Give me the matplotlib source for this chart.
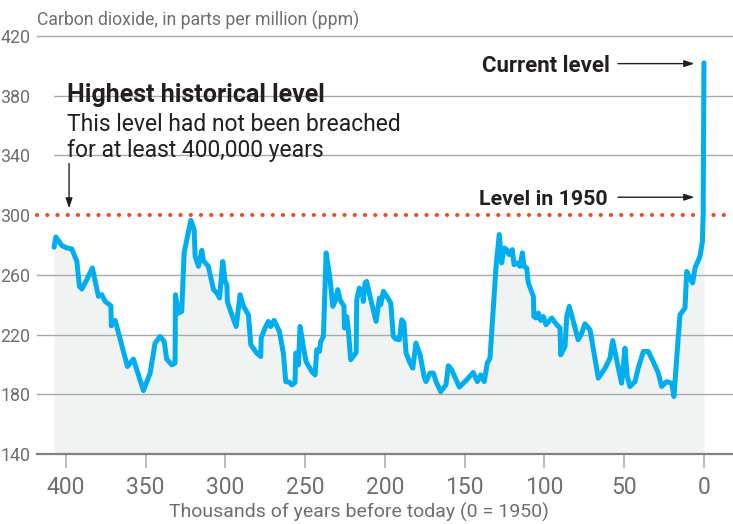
import matplotlib

matplotlib.use("Agg")
import matplotlib.pyplot as plt
from matplotlib.patches import Rectangle

# thousands of years before 1950, CO2 in ppm
YEARS_K = [
    407.3, 406.2, 402.4, 399.3, 396.2, 393.0, 391.4, 389.9, 386.8, 383.3,
    379.5, 377.4, 375.3, 371.7, 371.4, 369.0, 361.3, 357.6, 351.3, 347.1,
    344.0, 340.9, 338.3, 336.7, 333.5, 331.5, 331.2, 329.4, 327.3, 325.8,
    324.1, 321.6, 319.5, 318.9, 316.8, 314.7, 313.7, 310.6, 308.5, 307.4,
    305.3, 303.6, 301.6, 300.1, 299.0, 298.7, 295.9, 293.2, 290.7, 288.6,
    285.5, 284.0, 280.3, 277.8, 277.5, 275.1, 273.0, 271.5, 269.4, 266.1,
    263.6, 262.1, 259.8, 258.3, 256.3, 255.8, 254.8, 254.2, 253.1, 251.1,
    249.4, 245.8, 243.7, 242.7, 241.0, 240.2, 238.5, 236.8, 234.3, 232.6,
    231.2, 229.5, 228.1, 225.6, 225.3, 223.9, 222.9, 221.4, 218.0, 217.6,
    216.0, 214.1, 213.5, 212.4, 211.4, 209.3, 205.5, 203.4, 202.6, 200.9,
    198.8, 196.3, 194.7, 193.0, 190.9, 189.4, 188.0, 186.7, 184.2, 182.5,
    180.5, 177.9, 175.4, 174.2, 171.7, 169.6, 167.9, 165.0, 161.7, 160.2,
    158.1, 153.3, 148.7, 144.6, 142.0, 139.9, 137.7, 135.8, 134.1, 130.3,
    128.3, 126.8, 125.3, 123.6, 122.2, 120.1, 119.0, 117.0, 115.3, 113.8,
    112.8, 111.1, 110.1, 106.9, 106.6, 105.3, 103.8, 102.3, 100.7, 99.0,
    95.4, 92.3, 90.2, 89.8, 87.1, 86.0, 84.4, 81.9, 78.8, 76.6,
    74.6, 71.4, 66.2, 62.0, 58.9, 57.2, 54.3, 51.6, 49.5, 48.1,
    46.4, 43.2, 41.2, 38.0, 34.9, 31.8, 28.6, 26.5, 23.4, 20.2,
    18.8, 16.7, 15.0, 11.9, 10.8, 8.8, 7.1, 5.6, 2.5, 1.0,
    0.5, 0.0,
]
CO2_PPM = [
    278.5, 285.4, 279.6, 278.0, 277.4, 269.0, 252.3, 250.5, 256.8, 264.6,
    245.6, 246.7, 242.2, 239.3, 225.9, 229.5, 198.6, 203.6, 182.5, 194.2,
    214.3, 218.7, 215.4, 203.6, 199.7, 200.9, 246.7, 234.4, 235.5, 274.7,
    283.6, 296.6, 290.3, 272.4, 265.7, 276.4, 269.5, 265.7, 255.6, 250.1,
    247.9, 244.5, 269.0, 255.6, 253.4, 242.2, 233.3, 225.4, 246.7, 238.9,
    233.3, 213.2, 207.6, 205.3, 217.7, 224.4, 228.8, 225.4, 229.5, 222.1,
    207.6, 188.5, 188.1, 186.3, 187.9, 207.6, 205.3, 199.7, 225.4, 212.0,
    202.0, 195.2, 193.0, 209.8, 208.7, 215.4, 218.7, 274.7, 256.8, 238.9,
    242.2, 250.1, 243.4, 238.9, 224.4, 232.1, 223.2, 203.1, 208.0, 243.4,
    251.2, 247.9, 242.2, 254.6, 255.6, 245.6, 228.8, 244.5, 240.0, 249.0,
    245.6, 241.2, 218.7, 217.0, 216.5, 229.9, 227.7, 207.6, 200.9, 197.5,
    214.3, 206.4, 191.9, 188.5, 194.2, 194.2, 188.5, 181.8, 186.3, 199.1,
    196.4, 184.8, 189.7, 194.6, 188.5, 193.0, 188.5, 200.9, 204.2, 265.7,
    287.0, 268.0, 278.0, 276.9, 273.6, 276.9, 266.8, 268.0, 265.7, 274.7,
    265.7, 264.6, 254.6, 245.6, 232.1, 231.1, 234.4, 229.5, 232.1, 226.6,
    231.1, 226.6, 224.4, 206.4, 212.0, 232.1, 238.9, 228.8, 216.5, 221.0,
    227.2, 223.2, 190.8, 197.5, 204.2, 216.0, 200.9, 187.4, 210.9, 191.9,
    185.2, 188.5, 197.5, 208.7, 208.7, 201.9, 194.2, 185.2, 188.5, 187.4,
    178.5, 209.8, 233.3, 237.8, 262.3, 257.9, 254.6, 264.6, 272.4, 282.0,
    300.0, 402.0,
]

HIGHEST_LEVEL = 300
CURRENT_LEVEL = 401.5
LEVEL_1950_ARROW_Y = 312

X_TICKS = [400, 350, 300, 250, 200, 150, 100, 50, 0]
Y_TICKS = [140, 180, 220, 260, 300, 340, 380, 420]

LINE_BLUE = "#00aeef"
FILL_GREY = "#f1f3f3"
DOT_RED = "#f04a23"
GRID_GREY = "#a7a9ac"
TEXT_GREY = "#6d6e71"
INK = "#231f20"

plt.rcParams["font.family"] = ["Roboto", "DejaVu Sans"]

fig = plt.figure(figsize=(7.33, 5.24), dpi=100)
ax = fig.add_axes([37 / 733, 1 - 454 / 524, 696 / 733, 418 / 524])

ax.set_xlim(418, -18.2)
ax.set_ylim(140, 420)

# grid lines (300 is drawn as the red dotted line instead)
for v in Y_TICKS:
    if v in (140, HIGHEST_LEVEL):
        continue
    ax.axhline(v, color=GRID_GREY, lw=1.0, zorder=1, clip_on=False)

ax.fill_between(YEARS_K, CO2_PPM, 140, color=FILL_GREY, lw=0, zorder=0)

# white box behind the annotation text breaks the grid lines
ax.add_patch(Rectangle((407.3, 330), 407.3 - 183.6, 58, facecolor="white",
                       edgecolor="none", zorder=2))

ax.axhline(HIGHEST_LEVEL, color=DOT_RED, lw=3.0, linestyle=(0, (0.01, 2.45)),
           dash_capstyle="round", zorder=3, clip_on=False)

ax.plot(YEARS_K, CO2_PPM, color=LINE_BLUE, lw=3.6, solid_capstyle="round",
        solid_joinstyle="round", zorder=4, clip_on=False)

for side in ["left", "right", "top"]:
    ax.spines[side].set_visible(False)
ax.spines["bottom"].set_color("#808285")
ax.spines["bottom"].set_linewidth(1.6)
ax.spines["bottom"].set_zorder(5)

ax.set_xticks(X_TICKS)
ax.set_xticklabels([str(t) for t in X_TICKS])
ax.set_yticks(Y_TICKS)
ax.set_yticklabels([str(t) for t in Y_TICKS])
ax.tick_params(axis="x", length=10, width=1.1, color=GRID_GREY, pad=6,
               labelsize=16.5, labelcolor=TEXT_GREY)
ax.tick_params(axis="y", length=0, pad=5, labelsize=12.8, labelcolor=TEXT_GREY)

fig.text(37 / 733, 1 - 26 / 524, "Carbon dioxide, in parts per million (ppm)",
         ha="left", va="baseline", fontsize=12.7, color=TEXT_GREY)
fig.text(358.5 / 733, 1 - 512 / 524, "Thousands of years before today (0 = 1950)",
         ha="center", va="center", fontsize=14, color=TEXT_GREY)

# annotations
ax.text(399.1, 380.3, "Highest historical level", ha="left", va="center",
        fontsize=18, fontweight="bold", color=INK, zorder=6)
ax.text(399.1, 352.0, "This level had not been breached\nfor at least 400,000 years",
        ha="left", va="center", fontsize=16.5, color=INK,
        linespacing=1.17, zorder=6)
arrow_style = dict(arrowstyle="-|>,head_length=0.6,head_width=0.2",
                   color=INK, lw=1.0, shrinkA=0, shrinkB=0)
ax.annotate("", xy=(397.9, 304.5), xytext=(397.9, 334.6),
            arrowprops=arrow_style, zorder=6)

ax.text(58.9, CURRENT_LEVEL - 1.5, "Current level", ha="right", va="center",
        fontsize=16, fontweight="bold", color=INK, zorder=6)
ax.annotate("", xy=(6.0, CURRENT_LEVEL), xytext=(53.9, CURRENT_LEVEL),
            arrowprops=arrow_style, zorder=6)

ax.text(60.2, LEVEL_1950_ARROW_Y - 1.5, "Level in 1950", ha="right", va="center",
        fontsize=15.4, fontweight="bold", color=INK, zorder=6)
ax.annotate("", xy=(6.0, LEVEL_1950_ARROW_Y), xytext=(53.9, LEVEL_1950_ARROW_Y),
            arrowprops=arrow_style, zorder=6)

fig.savefig("out.png", dpi=100)
